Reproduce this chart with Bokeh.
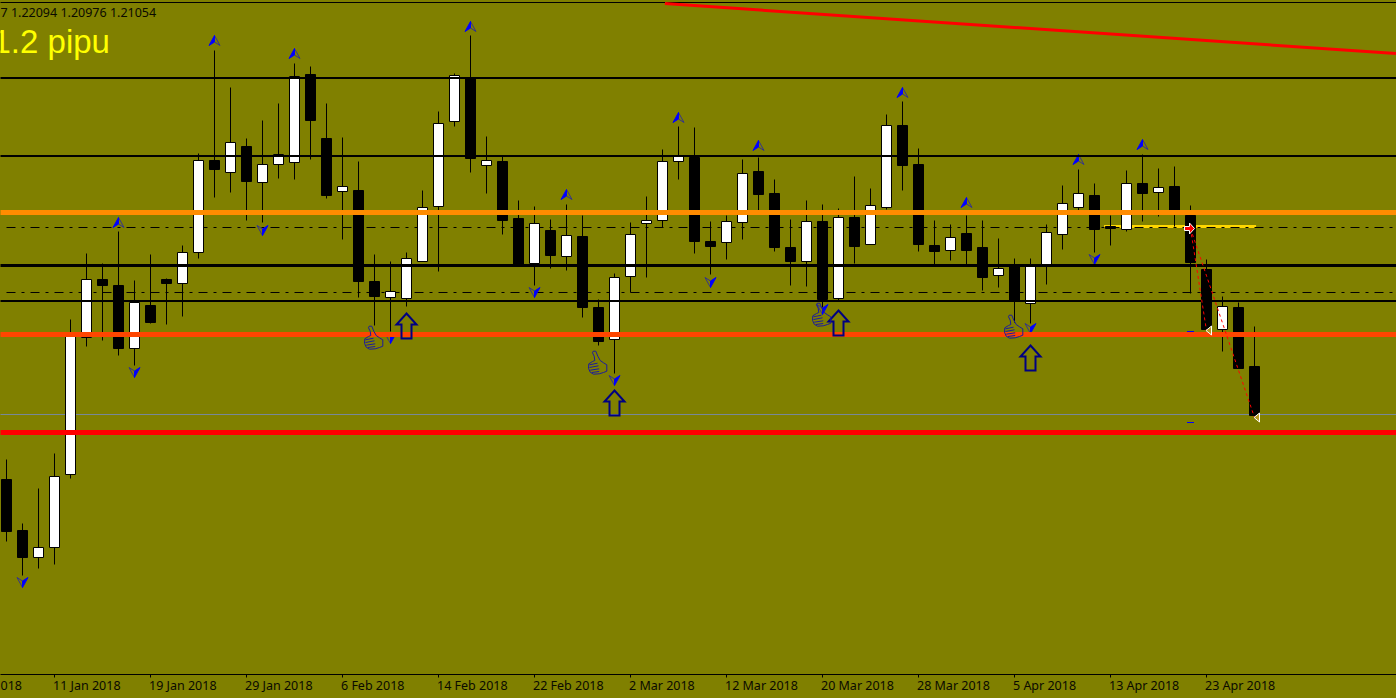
from bokeh.embed import file_html
from bokeh.resources import INLINE
from bokeh.plotting import figure
from bokeh.models import FixedTicker, Label, ColumnDataSource, LinearAxis

# ---- data (daily candles) ----
opens = [1.20252,1.1964,1.19316,1.19436,1.20312,1.21956,1.22652,1.2258,1.21824,1.2234,
 1.22652,1.22604,1.22976,1.2408,1.23936,1.24248,1.23816,1.24032,1.24056,1.25112,
 1.24344,1.23708,1.2372,1.22628,1.22436,1.22424,1.22868,1.23528,1.24548,1.25076,
 1.2402,1.24068,1.23384,1.22844,1.2324,1.22928,1.23168,1.22316,1.21932,1.22688,
 1.23324,1.2336,1.24068,1.24116,1.23108,1.23096,1.23336,1.23948,1.23684,1.23036,
 1.22868,1.23348,1.22424,1.23396,1.23072,1.23516,1.245,1.24032,1.2306,1.23,
 1.23204,1.23036,1.227,1.22808,1.22364,1.2282,1.23192,1.23516,1.2366,1.23288,
 1.23252,1.23804,1.23696,1.23768,1.2342,1.22772,1.22052,1.22316,1.21608]
closes = [1.19628,1.19316,1.19436,1.20288,1.2198,1.22652,1.2258,1.21824,1.22376,1.22136,
 1.22604,1.22976,1.2408,1.23972,1.24296,1.23828,1.24032,1.24152,1.25088,1.2456,
 1.2366,1.23768,1.22628,1.22448,1.22508,1.22904,1.23516,1.24524,1.251,1.24104,
 1.2408,1.2336,1.2282,1.23324,1.2294,1.2318,1.22316,1.21908,1.22676,1.23192,
 1.2336,1.24068,1.24128,1.23108,1.23048,1.23348,1.23924,1.23672,1.23036,1.22868,
 1.23348,1.22412,1.23396,1.23048,1.2354,1.245,1.2402,1.23072,1.22988,1.23156,
 1.23,1.22676,1.22784,1.224,1.22808,1.23216,1.23564,1.23684,1.23252,1.23264,
 1.23804,1.23684,1.23756,1.23444,1.22856,1.22052,1.22328,1.21584,1.2102]
highs = [1.20492,1.19724,1.20144,1.20564,1.22172,1.22964,1.22844,1.23228,1.2264,1.22952,
 1.22664,1.2306,1.24164,1.254,1.24956,1.24344,1.2456,1.24764,1.25244,1.25208,
 1.24764,1.24356,1.24068,1.22952,1.22868,1.22976,1.2372,1.24668,1.25124,1.2558,
 1.24368,1.24128,1.236,1.23528,1.23372,1.23552,1.2342,1.22412,1.22724,1.23336,
 1.23648,1.24212,1.24488,1.24476,1.23348,1.2342,1.24092,1.24116,1.23852,1.23372,
 1.236,1.23552,1.23504,1.23888,1.23744,1.24632,1.24788,1.24224,1.2336,1.23312,
 1.2342,1.2336,1.23144,1.22904,1.22904,1.23312,1.2378,1.23972,1.23804,1.2342,
 1.2396,1.24152,1.23984,1.24008,1.2354,1.22892,1.22448,1.22376,1.22088]
lows = [1.19508,1.191,1.19184,1.19232,1.20264,1.21848,1.2192,1.2174,1.2162,1.22124,
 1.22112,1.22208,1.22904,1.23636,1.23696,1.2336,1.23336,1.23864,1.23852,1.24092,
 1.23624,1.23132,1.22436,1.221,1.22028,1.22328,1.22868,1.22748,1.24488,1.23936,
 1.23684,1.23192,1.2282,1.2258,1.22784,1.2276,1.22196,1.2186,1.21524,1.22496,
 1.22676,1.23276,1.23852,1.22964,1.22712,1.22892,1.23132,1.2348,1.22988,1.2258,
 1.22568,1.22316,1.224,1.22844,1.23072,1.23492,1.2372,1.22988,1.22832,1.2288,
 1.22832,1.2252,1.22556,1.22136,1.22124,1.22592,1.23012,1.2348,1.22976,1.2306,
 1.23228,1.23348,1.23408,1.23288,1.22484,1.2204,1.21788,1.21584,1.20984]

tick_index = [3,9,15,21,27,33,39,45,51,57,63,69,75]
tick_labels = ["11 Jan 2018","19 Jan 2018","29 Jan 2018","6 Feb 2018","14 Feb 2018","22 Feb 2018",
 "2 Mar 2018","12 Mar 2018","20 Mar 2018","28 Mar 2018","5 Apr 2018","13 Apr 2018","23 Apr 2018"]
cut_label = "018"

black_levels = [1.2507,1.24134,1.22394]
thick_level = 1.2282
orange_level = 1.23456
orangered_level = 1.21992
red_level = 1.20816
slate_level = 1.21032
dashdot_levels = [1.23276,1.22496]
top_level = 1.25976
yellow_level = 1.23288
yellow_index = [68.6,78.1]
trend_index = [41.15,86.84]
trend_price = [1.25964,1.25364]

up_index = [7,13,18,29,35,42,47,56,60,67,71]
up_price = [1.23396,1.2558,1.25424,1.25748,1.23732,1.24656,1.2432,1.24956,1.23636,1.24152,1.24332]
down_index = [1,8,16,24,33,38,44,51,64,68]
down_price = [1.18956,1.21476,1.2318,1.21884,1.22436,1.2138,1.22556,1.22232,1.22004,1.22832]
hollow_index = [25,38,52,64]
hollow_price = [1.22244,1.2132,1.2228,1.2186]
thumb_index = [23,37,51,63]
thumb_price = [1.21956,1.21656,1.22232,1.22088]
trade_index = 74
trade_price = 1.23264
exit_index = [75,78]
exit_price = [1.2204,1.20996]
stop_price = [1.22028,1.20936]

OLIVE = "#808000"
TEXT = "#0a0a00"
PX = 1/16
PY = 0.00012
X0 = -6*PX
X1 = X0 + 1396*PX
XL = X0 - 2*PX
Y0 = 1.26
Y1 = Y0 - 674*PY
FS = 12.5

p = figure(width=1396, height=698, frame_width=1396, frame_height=674,
           x_range=(X0, X1), y_range=(Y1, Y0), y_axis_location=None,
           toolbar_location=None, output_backend="svg",
           min_border_left=0, min_border_right=0, min_border_top=0, min_border_bottom=24,
           background_fill_color=OLIVE, border_fill_color=OLIVE, outline_line_color=None,
           styles={"position": "absolute", "left": "0px", "top": "0px", "background-color": OLIVE})
p.grid.visible = False

# axis with the line and the tick marks
ax = p.xaxis[0]
ax.ticker = FixedTicker(ticks=tick_index)
ax.major_label_overrides = {t: "" for t in tick_index}
ax.major_label_text_font_size = "1px"
ax.major_label_standoff = 0
ax.major_tick_out = 3
ax.major_tick_in = 0
ax.minor_tick_line_color = None
ax.axis_line_color = "black"
ax.major_tick_line_color = "black"

# axis with the labels: each label starts at its tick, as in the terminal
EM = {"J":.273,"a":.561,"n":.618,"F":.519,"e":.564,"b":.615,"M":.907,"r":.413,"A":.639,"p":.615," ":.26}
def text_width(s):
    return sum(EM.get(ch, .572) for ch in s) * FS
label_pos = [t + (text_width(s)/2 - 1.5)*PX for t, s in zip(tick_index, tick_labels)]
cut_pos = 2*PX
lax = LinearAxis(ticker=FixedTicker(ticks=[cut_pos] + label_pos),
                 major_label_overrides={**{cut_pos: cut_label}, **dict(zip(label_pos, tick_labels))},
                 axis_line_color=None, major_tick_line_color=None, minor_tick_line_color=None,
                 major_tick_in=0, major_tick_out=0, major_label_standoff=-1,
                 major_label_text_color=TEXT, major_label_text_font="Noto Sans",
                 major_label_text_font_size=f"{FS}px")
p.add_layout(lax, "below")

# dash-dot levels and yellow level below the candles
p.segment(x0=yellow_index[0], x1=yellow_index[1], y0=yellow_level, y1=yellow_level,
          line_color="#FFD700", line_width=3)
p.segment(x0=[0]*2, x1=[X1]*2, y0=dashdot_levels, y1=dashdot_levels,
          line_color="black", line_width=1, line_dash="9 6 3 6")
p.segment(x0=XL, x1=X1, y0=slate_level, y1=slate_level, line_color="#778899", line_width=1)

idx = list(range(len(opens)))
body_top = [max(o, c) for o, c in zip(opens, closes)]
body_bot = [min(o, c) for o, c in zip(opens, closes)]
fills = ["white" if c > o else "black" for o, c in zip(opens, closes)]
src = ColumnDataSource(dict(x=idx, h=highs, l=lows, t=body_top, b=body_bot, f=fills))
p.segment(x0="x", x1="x", y0="l", y1="h", source=src, line_color="black", line_width=1)
p.vbar(x="x", width=10*PX, top="t", bottom="b", source=src, fill_color="f", line_color="black", line_width=1)

# fractal darts: half filled, half outlined
fx, fy, ox, oy = [], [], [], []
for i, pr in zip(up_index, up_price):
    w, n = pr - 10*PY, pr - 6.5*PY
    fx.append([i, i-5.5*PX, i]); fy.append([pr, w, n])
    ox.append([i, i+5.5*PX, i]); oy.append([pr, w, n])
for i, pr in zip(down_index, down_price):
    w, n = pr + 10*PY, pr + 6.5*PY
    fx.append([i, i+5.5*PX, i]); fy.append([pr, w, n])
    ox.append([i, i-5.5*PX, i]); oy.append([pr, w, n])
p.patches(ox, oy, fill_alpha=0, line_color="#34348c", line_width=1)
p.patches(fx, fy, fill_color="#0000ff", line_color="#0000ff", line_width=1)

# levels over the candles
p.segment(x0=XL, x1=X1, y0=top_level, y1=top_level, line_color="black", line_width=1)
p.segment(x0=[XL]*3, x1=[X1]*3, y0=black_levels, y1=black_levels, line_color="black", line_width=2)
p.segment(x0=XL, x1=X1, y0=thick_level, y1=thick_level, line_color="black", line_width=3)
p.segment(x0=XL, x1=X1, y0=orange_level, y1=orange_level, line_color="#FF8C00", line_width=5)
p.segment(x0=XL, x1=X1, y0=orangered_level, y1=orangered_level, line_color="#FF4500", line_width=5)
p.segment(x0=XL, x1=X1, y0=red_level, y1=red_level, line_color="#FF0000", line_width=5)
p.line(trend_index, trend_price, line_color="#FF0000", line_width=3)

# hollow up arrows
hx, hy = [], []
for i, pr in zip(hollow_index, hollow_price):
    dx = [0, 10, 5, 5, -5, -5, -10]
    dy = [0, 11, 11, 25, 25, 11, 11]
    hx.append([i + d*PX for d in dx]); hy.append([pr - d*PY for d in dy])
p.patches(hx, hy, fill_alpha=0, line_color="#000080", line_width=2, line_join="miter")

# thumbs
tx, ty, sx, sy = [], [], [], []
dx = [-4.3,-1.7,.3,2.7,6,9.3,9.3,6,1.7,-4,-7.3,-9,-8.7,-5,-2.7,-3.3,-5]
dy = [-11.3,-11.3,-6.3,-2,.3,2.3,8.7,10,11.3,11.7,9.7,5.7,1.3,-1,-2,-6.3,-9.7]
for i, pr in zip(thumb_index, thumb_price):
    tx.append([i - PX + d*PX for d in dx]); ty.append([pr - d*PY for d in dy])
    for a, b, c, e in [(-8,2.3,0,.7),(-8,5,1,3.3),(-7.3,7.7,1.7,6.3),(-5.7,10,1.7,9)]:
        sx.append([i - PX + a*PX, i - PX + c*PX]); sy.append([pr - b*PY, pr - e*PY])
p.patches(tx, ty, fill_alpha=0, line_color="#1c1c9c", line_width=1)
p.multi_line(sx, sy, line_color="#1c1c9c", line_width=1)

# trade marks
p.segment(x0=[trade_index]*2, x1=exit_index, y0=[trade_price]*2, y1=exit_price,
          line_color="#FF0000", line_width=1, line_dash="3 3")
p.scatter(x=[trade_index]*2, y=stop_price, marker="dash", size=7, line_color="#0000ff", line_width=1)
ex, ey = [], []
for i, pr in zip(exit_index, exit_price):
    ex.append([i - 0.5*PX, i + 5*PX, i + 5*PX]); ey.append([pr, pr + 4.5*PY, pr - 4.5*PY])
p.patches(ex, ey, fill_color="#b89a20", line_color="white", line_width=1)
p.patches([[trade_index - 6*PX, trade_index - 1*PX, trade_index - 1*PX, trade_index + 4*PX,
            trade_index - 1*PX, trade_index - 1*PX, trade_index - 6*PX]],
          [[trade_price + 2*PY, trade_price + 2*PY, trade_price + 5.5*PY, trade_price,
            trade_price - 5.5*PY, trade_price - 2*PY, trade_price - 2*PY]],
          fill_color="#FF0000", line_color="white", line_width=1)

# texts
p.add_layout(Label(x=X0, y=Y0 - 12*PY, text="7 1.22094 1.20976 1.21054", text_font="Noto Sans",
                   text_font_size=f"{FS}px", text_color=TEXT, text_baseline="alphabetic", text_align="left"))
p.add_layout(Label(x=X0 - 8*PX, y=Y0 - 41*PY, text="1.2 pipu", text_font="Liberation Sans",
                   text_font_size="33px", text_color="#FFFF00", text_baseline="alphabetic", text_align="left"))

open("out.html", "w").write(file_html(p, INLINE))
